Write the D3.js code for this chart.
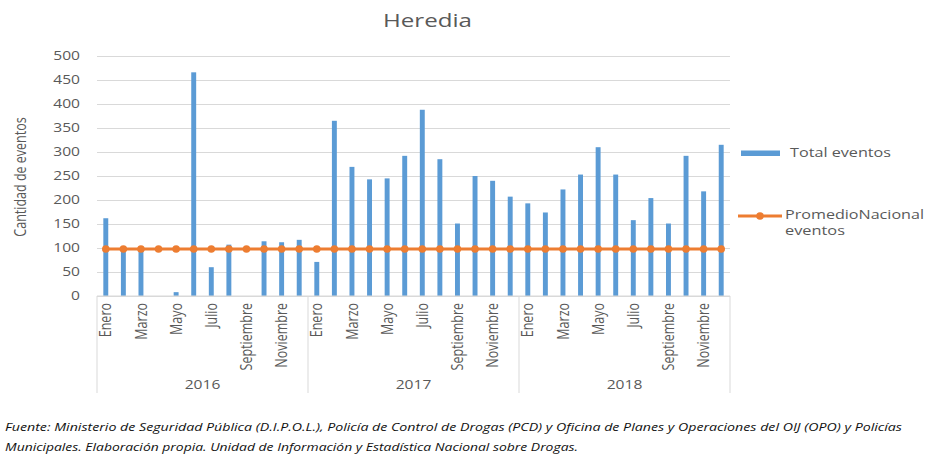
<!DOCTYPE html>
<html lang="es">
<head>
<meta charset="UTF-8">
<title>Heredia</title>
<style>
body { margin: 0; background: #fff; }
text { font-family: "Open Sans", sans-serif; fill: #595959; }
.grid line { stroke: #d9d9d9; }
.grid .domain { display: none; }
.axis .domain { display: none; }
.axis .tick line { display: none; }
</style>
</head>
<body>
<svg width="927" height="456"></svg>
<script src="https://d3js.org/d3.v7.min.js"></script>
<script>

var years = ["2016", "2017", "2018"];
var months = ["Enero", "Febrero", "Marzo", "Abril", "Mayo", "Junio", "Julio",
              "Agosto", "Septiembre", "Octubre", "Noviembre", "Diciembre"];
var total2016 = [162, 98, 99, 0, 8, 466, 60, 107, 0, 114, 112, 117];
var total2017 = [71, 365, 269, 243, 245, 292, 388, 285, 151, 250, 240, 207];
var total2018 = [193, 174, 222, 253, 310, 253, 158, 204, 151, 292, 218, 315];
var promedio = 98;
var yTicks = [0, 50, 100, 150, 200, 250, 300, 350, 400, 450, 500];
var fuente = [
  "Fuente: Ministerio de Seguridad Pública (D.I.P.O.L.), Policía de Control de Drogas (PCD) y Oficina de Planes y Operaciones del OIJ (OPO) y Policías",
  "Municipales. Elaboración propia. Unidad de Información y Estadística Nacional sobre Drogas."
];

var totals = [total2016, total2017, total2018];
var data = [];
years.forEach(function(yr, i) {
  months.forEach(function(m, j) {
    data.push({key: yr + "-" + j, year: yr, month: m, idx: j, total: totals[i][j], prom: promedio});
  });
});

var svg = d3.select("svg");
var plot = {left: 97, right: 730, top: 56, bottom: 296};
var stretch = 1.3;

var x = d3.scaleBand()
    .domain(data.map(function(d) { return d.key; }))
    .range([plot.left, plot.right])
    .paddingInner(0.72)
    .paddingOuter(0.36);

var y = d3.scaleLinear()
    .domain([0, 500])
    .range([plot.bottom, plot.top]);

// gridlines
svg.append("g")
    .attr("class", "grid")
    .attr("transform", "translate(" + plot.left + ",0)")
    .call(d3.axisLeft(y).tickValues(yTicks).tickSize(-(plot.right - plot.left)).tickFormat(""));

// y tick labels
svg.append("g")
    .attr("class", "axis")
    .attr("transform", "translate(" + plot.left + ",0)")
    .call(d3.axisLeft(y).tickValues(yTicks).tickSize(0).tickPadding(17))
    .attr("font-family", null)
    .attr("font-size", null)
    .selectAll("text")
      .attr("font-size", 12)
      .attr("fill", "#595959")
      .attr("x", -17 / stretch)
      .attr("transform", "scale(" + stretch + ",1)");

svg.append("text")
    .attr("transform", "translate(26,177) rotate(-90) scale(1," + stretch + ")")
    .attr("text-anchor", "middle")
    .attr("font-size", 12.5)
    .text("Cantidad de eventos");

// bars
svg.append("g")
  .selectAll("rect")
  .data(data)
  .enter().append("rect")
    .attr("x", function(d) { return x(d.key); })
    .attr("y", function(d) { return y(d.total); })
    .attr("width", x.bandwidth())
    .attr("height", function(d) { return y(0) - y(d.total); })
    .attr("fill", "#5b9bd5");

// x axis line and year separators
var yearW = (plot.right - plot.left) / years.length;
svg.append("line")
    .attr("x1", plot.left).attr("x2", plot.right)
    .attr("y1", plot.bottom).attr("y2", plot.bottom)
    .attr("stroke", "#d9d9d9");

svg.append("g")
  .selectAll("line")
  .data(d3.range(years.length + 1))
  .enter().append("line")
    .attr("x1", function(i) { return plot.left + i * yearW; })
    .attr("x2", function(i) { return plot.left + i * yearW; })
    .attr("y1", plot.bottom)
    .attr("y2", 393)
    .attr("stroke", "#d9d9d9");

// month labels (every other)
svg.append("g")
  .selectAll("text")
  .data(data.filter(function(d) { return d.idx % 2 == 0; }))
  .enter().append("text")
    .attr("transform", function(d) {
      return "translate(" + (x(d.key) + x.bandwidth() / 2) + ",303) rotate(-90) scale(1," + stretch + ")";
    })
    .attr("dy", "0.35em")
    .attr("text-anchor", "end")
    .attr("font-size", 12.5)
    .text(function(d) { return d.month; });

// year labels
svg.append("g")
  .selectAll("text")
  .data(years)
  .enter().append("text")
    .attr("transform", function(d, i) {
      return "translate(" + (plot.left + (i + 0.5) * yearW) + ",389) scale(" + stretch + ",1)";
    })
    .attr("text-anchor", "middle")
    .attr("font-size", 12)
    .text(function(d) { return d; });

// promedio line
var line = d3.line()
    .x(function(d) { return x(d.key) + x.bandwidth() / 2; })
    .y(function(d) { return y(d.prom); });

svg.append("path")
    .datum(data)
    .attr("fill", "none")
    .attr("stroke", "#ed7d31")
    .attr("stroke-width", 3)
    .attr("d", line);

svg.append("g")
  .selectAll("circle")
  .data(data)
  .enter().append("circle")
    .attr("cx", function(d) { return x(d.key) + x.bandwidth() / 2; })
    .attr("cy", function(d) { return y(d.prom); })
    .attr("r", 3.8)
    .attr("fill", "#ed7d31");

// title
svg.append("text")
    .attr("x", 383)
    .attr("y", 27)
    .attr("font-size", 19)
    .attr("textLength", 89)
    .attr("lengthAdjust", "spacingAndGlyphs")
    .text("Heredia");

// legend
svg.append("rect")
    .attr("x", 741).attr("y", 150.5)
    .attr("width", 39).attr("height", 5.5)
    .attr("fill", "#5b9bd5");
svg.append("text")
    .attr("x", 790).attr("y", 157)
    .attr("font-size", 12)
    .attr("textLength", 101)
    .attr("lengthAdjust", "spacingAndGlyphs")
    .text("Total eventos");

svg.append("line")
    .attr("x1", 738).attr("x2", 782)
    .attr("y1", 216).attr("y2", 216)
    .attr("stroke", "#ed7d31")
    .attr("stroke-width", 3);
svg.append("circle")
    .attr("cx", 760).attr("cy", 216).attr("r", 3.8)
    .attr("fill", "#ed7d31");
svg.append("text")
    .attr("x", 785).attr("y", 219)
    .attr("font-size", 12)
    .attr("textLength", 139)
    .attr("lengthAdjust", "spacingAndGlyphs")
    .text("PromedioNacional");
svg.append("text")
    .attr("x", 785).attr("y", 235)
    .attr("font-size", 12)
    .attr("textLength", 60)
    .attr("lengthAdjust", "spacingAndGlyphs")
    .text("eventos");

// source note
svg.append("g")
  .selectAll("text")
  .data(fuente)
  .enter().append("text")
    .attr("x", 5)
    .attr("y", function(d, i) { return 431 + i * 20; })
    .attr("font-size", 10)
    .attr("font-style", "italic")
    .style("fill", "#111")
    .attr("textLength", function(d, i) { return i == 0 ? 897 : 573; })
    .attr("lengthAdjust", "spacingAndGlyphs")
    .text(function(d) { return d; });

</script>
</body>
</html>
